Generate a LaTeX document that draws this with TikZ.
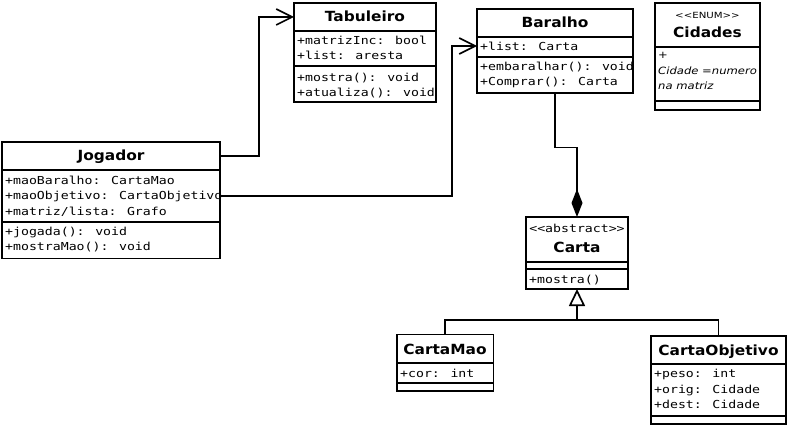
\documentclass[tikz,border=0pt]{standalone}
\usepackage{fontspec}
\usetikzlibrary{arrows.meta}
\newfontfamily\titlefont[FakeStretch=1.1]{DejaVu Sans}
\newfontfamily\monofont[FakeStretch=1.2]{DejaVu Sans Mono}
\newfontfamily\smallsans[FakeStretch=1.2]{DejaVu Sans}
\newfontfamily\itsans[FakeStretch=1.16]{DejaVu Sans}
\begin{document}
\begin{tikzpicture}[x=1pt,y=-1pt,
  classbox/.style={draw, line width=1.8pt, inner sep=0pt, outer sep=0pt, anchor=north west, fill=white},
  sepline/.style={line width=1.8pt},
  ctitle/.style={inner sep=0pt, anchor=base, font=\titlefont\bfseries\fontsize{14}{16}\selectfont},
  attr/.style={inner sep=0pt, anchor=base west, font=\monofont\fontsize{11}{13}\selectfont},
  stereo/.style={inner sep=0pt, anchor=base, font=\monofont\fontsize{11}{13}\selectfont},
  enumst/.style={inner sep=0pt, anchor=base, font=\smallsans\fontsize{8.5}{10}\selectfont},
  itattr/.style={inner sep=0pt, anchor=base west, font=\itsans\itshape\fontsize{10}{12}\selectfont},
  conn/.style={line width=1.7pt},
  assoc/.style={conn, -{Straight Barb[length=16pt,width=16pt,line width=1.6pt]}},
]
\useasboundingbox (0,0) rectangle (788,425);

% Jogador
\node[classbox, minimum width=218pt, minimum height=116.5pt] (jog) at (2,142) {};
\draw[sepline] (jog.west |- 0,170) -- (jog.east |- 0,170);
\draw[sepline] (jog.west |- 0,222) -- (jog.east |- 0,222);
\node[ctitle] (jogT) at (111,161) {Jogador};
\node[attr] (jogA1) at (5,185) {+maoBaralho: CartaMao};
\node[attr] (jogA2) at (5,200) {+maoObjetivo: CartaObjetivo};
\node[attr] (jogA3) at (5,215) {+matriz/lista: Grafo};
\node[attr] (jogM1) at (5,236) {+jogada(): void};
\node[attr] (jogM2) at (5,251) {+mostraMao(): void};

% Tabuleiro
\node[classbox, minimum width=142pt, minimum height=99pt] (tab) at (294,3) {};
\draw[sepline] (tab.west |- 0,31) -- (tab.east |- 0,31);
\draw[sepline] (tab.west |- 0,66) -- (tab.east |- 0,66);
\node[ctitle] (tabT) at (365,22) {Tabuleiro};
\node[attr] (tabA1) at (297,45) {+matrizInc: bool};
\node[attr] (tabA2) at (297,60) {+list: aresta};
\node[attr] (tabM1) at (297,82) {+mostra(): void};
\node[attr] (tabM2) at (297,97) {+atualiza(): void};

% Baralho
\node[classbox, minimum width=156pt, minimum height=84pt] (bar) at (477,9) {};
\draw[sepline] (bar.west |- 0,37) -- (bar.east |- 0,37);
\draw[sepline] (bar.west |- 0,57) -- (bar.east |- 0,57);
\node[ctitle] (barT) at (555,27.5) {Baralho};
\node[attr] (barA1) at (480,51) {+list: Carta};
\node[attr] (barM1) at (480,71) {+embaralhar(): void};
\node[attr] (barM2) at (480,86) {+Comprar(): Carta};

% Cidades
\node[classbox, minimum width=105pt, minimum height=107pt] (cid) at (655,3) {};
\draw[sepline] (cid.west |- 0,47) -- (cid.east |- 0,47);
\draw[sepline] (cid.west |- 0,101) -- (cid.east |- 0,101);
\node[enumst] (cidS) at (707.5,19) {<<ENUM>>};
\node[ctitle] (cidT) at (707.5,37.5) {Cidades};
\node[itattr] (cidA1) at (658,59) {+};
\node[itattr] (cidA2) at (658,75) {Cidade =numero};
\node[itattr] (cidA3) at (658,89.5) {na matriz};

% Carta
\node[classbox, minimum width=102pt, minimum height=72pt] (car) at (526,217) {};
\draw[sepline] (car.west |- 0,262) -- (car.east |- 0,262);
\draw[sepline] (car.west |- 0,269) -- (car.east |- 0,269);
\node[stereo] (carS) at (577,233) {<<abstract>>};
\node[ctitle] (carT) at (577,252) {Carta};
\node[attr] (carM1) at (529,283.5) {+mostra()};

% CartaMao
\node[classbox, minimum width=96.5pt, minimum height=56.5pt] (cm) at (397,334.5) {};
\draw[sepline] (cm.west |- 0,363) -- (cm.east |- 0,363);
\draw[sepline] (cm.west |- 0,383) -- (cm.east |- 0,383);
\node[ctitle] (cmT) at (445,354) {CartaMao};
\node[attr] (cmA1) at (400,377) {+cor: int};

% CartaObjetivo
\node[classbox, minimum width=135pt, minimum height=88pt] (co) at (651,336) {};
\draw[sepline] (co.west |- 0,364) -- (co.east |- 0,364);
\draw[sepline] (co.west |- 0,416) -- (co.east |- 0,416);
\node[ctitle] (coT) at (718.5,355) {CartaObjetivo};
\node[attr] (coA1) at (654,377) {+peso: int};
\node[attr] (coA2) at (654,393) {+orig: Cidade};
\node[attr] (coA3) at (654,408.5) {+dest: Cidade};

% associations
\draw[assoc] (jog.east |- 0,156) -- (259,156) |- (tab.west |- 0,17);
\draw[assoc] (jog.east |- 0,196) -- (452,196) |- (bar.west |- 0,46);

% composition
\draw[conn, -{Diamond[length=28pt,width=11pt]}] (bar.south) -- (555,147.5) -| (car.north);

% generalization
\coordinate (gj) at (577,320);
\draw[conn] (cm.north) |- (gj) -| (co.north);
\draw[conn, -{Triangle[open,length=17pt,width=16pt,fill=white]}] (gj) -- (car.south);
\end{tikzpicture}
\end{document}
